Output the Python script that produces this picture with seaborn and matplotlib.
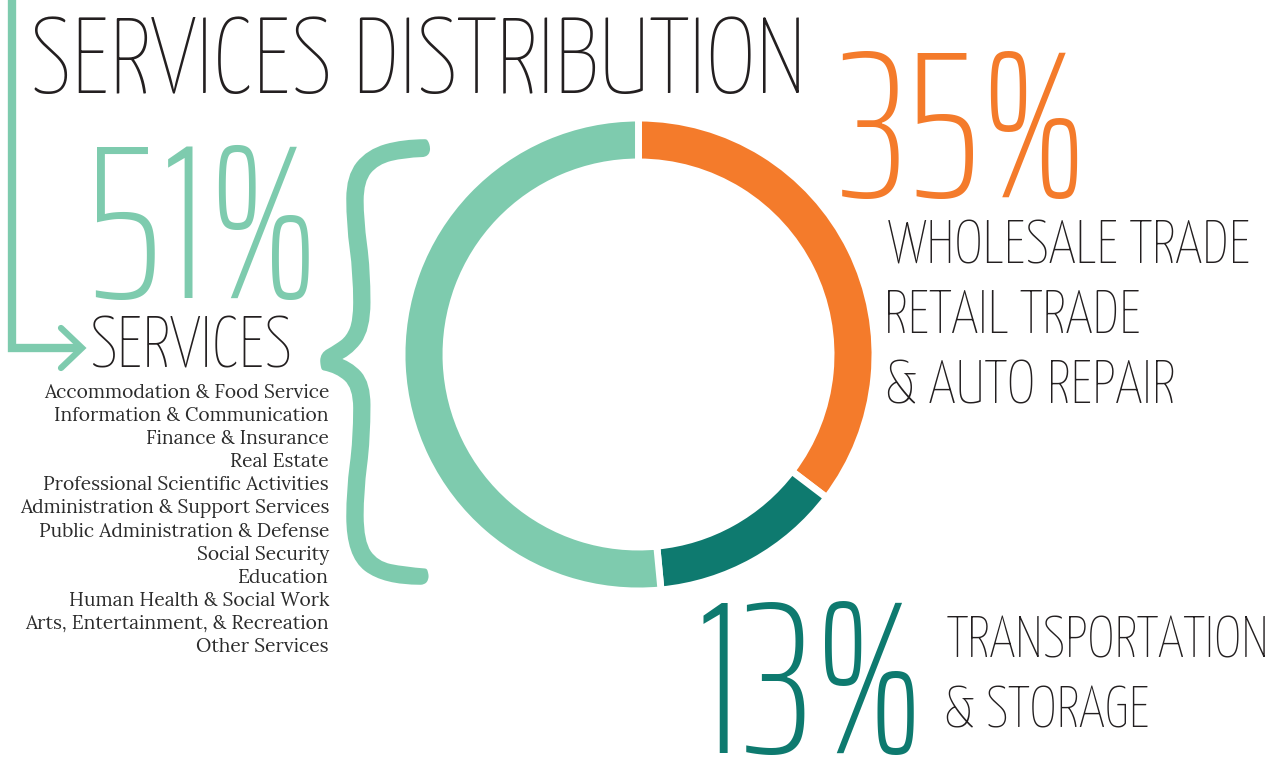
import matplotlib
matplotlib.use("Agg")
import matplotlib.pyplot as plt
import matplotlib.patheffects as pe
import seaborn as sns
from matplotlib.font_manager import FontProperties
from matplotlib.textpath import TextPath

# data
sectors = ["Wholesale Trade, Retail Trade & Auto Repair", "Transportation & Storage", "Services"]
shares = [35, 13, 51]
pct_labels = ["35%", "13%", "51%"]
sector_titles = [["WHOLESALE TRADE", "RETAIL TRADE", "& AUTO REPAIR"],
                 ["TRANSPORTATION", "& STORAGE"],
                 ["SERVICES"]]
services_list = [
    "Accommodation & Food Service",
    "Information & Communication",
    "Finance & Insurance",
    "Real Estate",
    "Professional Scientific Activities",
    "Administration & Support Services",
    "Public Administration & Defense",
    "Social Security",
    "Education",
    "Human Health & Social Work",
    "Arts, Entertainment, & Recreation",
    "Other Services",
]
colors = ["#F47B2B", "#0E7A6F", "#7ECBAE"]
dark = "#231F20"

sns.set_theme(style="white")
DPI = 100
W, H = 1284, 758
THIN = "Yanone Kaffeesatz"
NUM = "Saira ExtraCondensed"
SERIF = "Lora"


def k_of(size):
    # pixels per TextPath unit (path drawn at size 100)
    return size / 100 * DPI / 72


def place(ax, x, y, text, family, weight, cap, width, color, ref="H"):
    # put text with its ink left edge at x and baseline at y, sized to fit cap height and width
    fp = FontProperties(family=family, weight=weight)
    h = TextPath((0, 0), ref, size=100, prop=fp).get_extents().height
    ext = TextPath((0, 0), text, size=100, prop=fp).get_extents()
    size = min(cap / h, width / ext.width) * 100 * 72 / DPI
    ax.text(x - ext.x0 * k_of(size), y, text, family=family, weight=weight, fontsize=size,
            color=color, ha="left", va="baseline")
    return size


fig = plt.figure(figsize=(W / DPI, H / DPI), dpi=DPI)
ov = fig.add_axes([0, 0, 1, 1])
ov.set_xlim(0, W)
ov.set_ylim(H, 0)
ov.axis("off")

# title
place(ov, 35, 93, "SERVICES DISTRIBUTION", THIN, 200, 78, 765, dark)

# arrow bracket
green = colors[2]
ov.plot([12, 12, 80], [-5, 348, 348], color=green, lw=6, solid_joinstyle="miter",
        solid_capstyle="butt")
ov.plot([61, 82, 61], [328, 348, 368], color=green, lw=4.5, solid_joinstyle="miter",
        solid_capstyle="round")

# percentages
place(ov, 95, 298, pct_labels[2], NUM, 200, 153, 215, colors[2], "5")
place(ov, 842, 197, pct_labels[0], NUM, 200, 154, 236, colors[0], "5")
place(ov, 703, 753, pct_labels[1], NUM, 200, 151, 212, colors[1], "5")

# sector titles
place(ov, 93, 368, sector_titles[2][0], THIN, 200, 52, 197, dark)
fp_t = FontProperties(family=THIN, weight=200)
for lines, x0, y0, w0 in [(sector_titles[0], 888, 263, 360), (sector_titles[1], 947, 658, 318)]:
    s = place(ov, x0, y0, lines[0], THIN, 200, 46, w0, dark)
    for i, line in enumerate(lines[1:], start=1):
        x_off = TextPath((0, 0), line, size=100, prop=fp_t).get_extents().x0 * k_of(s)
        ov.text(x0 - x_off, y0 + 70 * i, line, family=THIN, weight=200, fontsize=s,
                color=dark, ha="left", va="baseline")

# services list
fp_s = FontProperties(family=SERIF)
list_size = 13.5 / TextPath((0, 0), "H", size=100, prop=fp_s).get_extents().height * 100 * 72 / DPI
for i, item in enumerate(services_list):
    ov.text(329, 398 + 23.1 * i, item, family=SERIF, fontsize=list_size,
            color="#2B2B2B", ha="right", va="baseline")

# curly brace
fp_b = FontProperties(family=THIN, weight=700)
ext = TextPath((0, 0), "{", size=100, prop=fp_b).get_extents()
bs = 440 / ext.height * 100 * 72 / DPI
kb = k_of(bs)
ov.text(323 - ext.x0 * kb, 582 + ext.y0 * kb, "{", family=THIN, weight=700,
        fontsize=bs, color=green, ha="left", va="baseline",
        path_effects=[pe.withStroke(linewidth=4, foreground=green, capstyle="round",
                                    joinstyle="round")])

# donut
R = 240
cx, cy = 638.5, 354.5
ax = fig.add_axes([(cx - R) / W, (H - cy - R) / H, 2 * R / W, 2 * R / H])
ax.pie(shares, labels=None, colors=colors, startangle=90, counterclock=False,
       radius=236.5, wedgeprops=dict(width=44, edgecolor="white", linewidth=5))
ax.set_xlim(-R, R)
ax.set_ylim(-R, R)
ax.set_aspect("equal")
ax.set_facecolor("none")
ax.axis("off")

fig.savefig("out.png", dpi=DPI, facecolor="white")
